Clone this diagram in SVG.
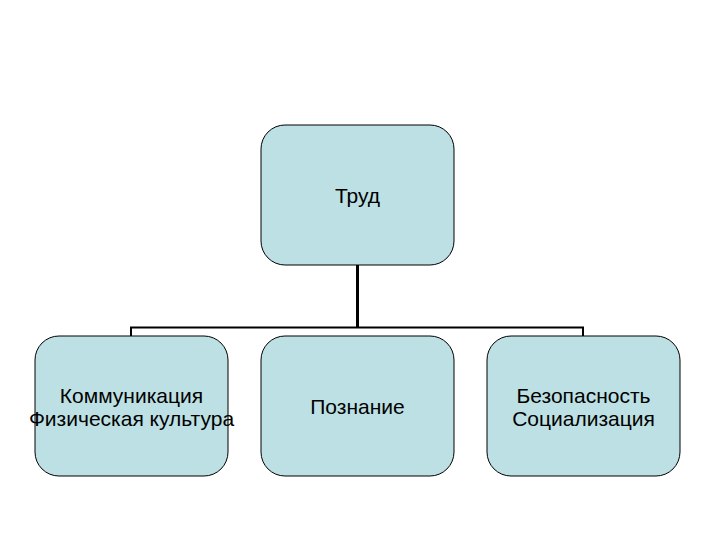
<svg xmlns="http://www.w3.org/2000/svg" width="720" height="540" viewBox="0 0 720 540">
<style>
.box{fill:#bde0e4;stroke:#000;stroke-width:1}
.t{font-family:"Liberation Sans",Arial,sans-serif;font-size:21px;fill:#000;text-anchor:middle}
.c{stroke:#000;fill:none}
</style>
<rect width="720" height="540" fill="#fff"/>
<g id="connectors">
<path class="c" stroke-width="3" d="M357.5 265 V327"/>
<path class="c" stroke-width="2" d="M131 336 V327.5 H583 V336"/>
</g>
<g id="trud">
<rect class="box" x="261" y="125" width="193" height="140" rx="24"/>
<text class="t" x="357.5" y="203">Труд</text>
</g>
<g id="komm">
<rect class="box" x="35" y="336" width="193" height="140" rx="24"/>
<text class="t" x="131.5" y="403">Коммуникация</text>
<text class="t" x="131.5" y="426">Физическая культура</text>
</g>
<g id="pozn">
<rect class="box" x="261" y="336" width="193" height="140" rx="24"/>
<text class="t" x="357.5" y="414">Познание</text>
</g>
<g id="bezop">
<rect class="box" x="487" y="336" width="193" height="140" rx="24"/>
<text class="t" x="583.5" y="403">Безопасность</text>
<text class="t" x="583.5" y="426">Социализация</text>
</g>
</svg>
